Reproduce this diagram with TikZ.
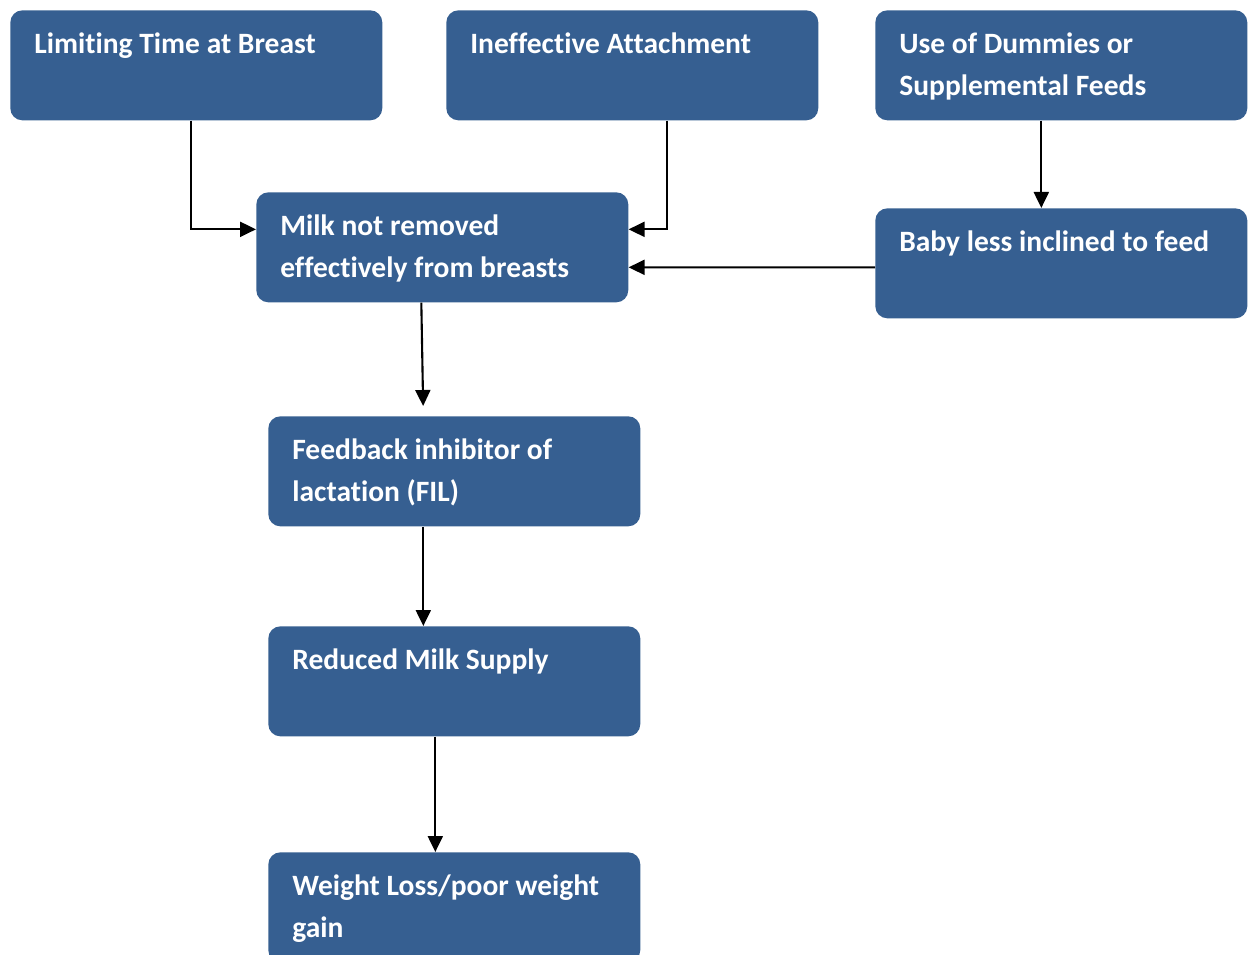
\documentclass[tikz,border=0pt]{standalone}
\usepackage{fontspec}
\setmainfont{Carlito}[Ligatures=NoCommon]
\usetikzlibrary{arrows.meta}
\definecolor{boxblue}{RGB}{54,95,145}

\begin{document}
\begin{tikzpicture}[x=0.02cm, y=-0.02cm,
  cause/.style={rectangle, rounded corners=0.24cm, fill=boxblue, text=white,
    anchor=north west, align=flush left, text width=6.48cm, inner xsep=0.48cm, inner ysep=0pt,
    text height=0.86cm, text depth=1.34cm, font=\bfseries\fontsize{16.8}{23.8}\selectfont},
  link/.style={-{Triangle[length=0.32cm, width=0.3cm]}, line width=1.2pt}]
\useasboundingbox (0,0) rectangle (1248,955);
% top row
\node [cause] (limit)  at (10,10)  {Limiting Time at Breast};
\node [cause] (attach) at (446,10) {Ineffective Attachment};
\node [cause] (dummy)  at (875,10) {Use of Dummies or\\Supplemental Feeds};
% middle
\node [cause] (milk)   at (256,192) {Milk not removed\\effectively from breasts};
\node [cause] (baby)   at (875,208) {Baby less inclined to feed};
% chain down
\node [cause] (fil)    at (268,416) {Feedback inhibitor of\\lactation (FIL)};
\node [cause] (supply) at (268,626) {Reduced Milk Supply};
\node [cause] (weight) at (268,852) {Weight Loss/poor weight\\gain};

\draw [link] ([xshift=-0.1cm]limit.south) |- ([yshift=0.36cm]milk.west);
\draw [link] ([xshift=0.7cm]attach.south) |- ([yshift=0.36cm]milk.east);
\draw [link] ([xshift=-0.4cm]dummy.south) -- ([xshift=-0.4cm]baby.north);
\draw [link] ([yshift=-0.08cm]baby.west) -- ([yshift=-0.4cm]milk.east);
\draw [link, shorten >=0.2cm] ([xshift=-0.42cm]milk.south) -- ([xshift=-0.62cm]fil.north);
\draw [link] ([xshift=-0.62cm]fil.south) -- ([xshift=-0.62cm]supply.north);
\draw [link] ([xshift=-0.38cm]supply.south) -- ([xshift=-0.38cm]weight.north);
\end{tikzpicture}
\end{document}
